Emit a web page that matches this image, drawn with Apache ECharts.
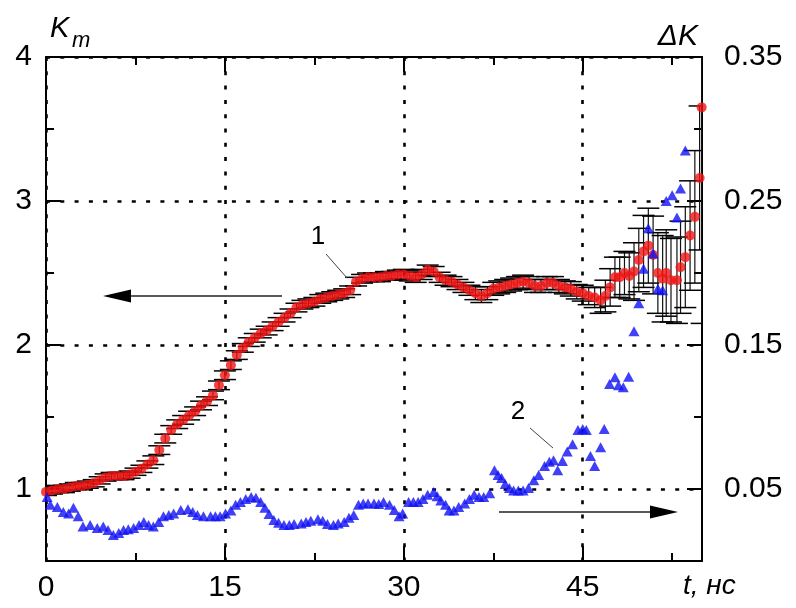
<!DOCTYPE html>
<html><head><meta charset="utf-8">
<script src="https://cdn.jsdelivr.net/npm/echarts@6/dist/echarts.min.js"></script>
<style>html,body{margin:0;padding:0;background:#fff}#c{width:796px;height:608px}</style>
</head><body><div id="c"></div>
<script>
// ---- data (t in ns) ----
const tRed = [0,0.5,1,1.5,2,2.5,3,3.5,4,4.5,
  5,5.5,6,6.5,7,7.5,8,8.5,9,9.5,
  10,10.5,11,11.5,12,12.5,13,13.5,14,14.5,
  15,15.5,16,16.5,17,17.5,18,18.5,19,19.5,
  20,20.5,21,21.5,22,22.5,23,23.5,24,24.5,
  25,25.5,26,26.5,27,27.5,28,28.5,29,29.5,
  30,30.5,31,31.5,32,32.5,33,33.5,34,34.5,
  35,35.5,36,36.5,37,37.5,38,38.5,39,39.5,
  40,40.5,41,41.5,42,42.5,43,43.5,44,44.5,
  45,45.5,46,46.5,
  46.9,47.3,47.7,48.1,48.5,48.9,49.3,49.7,50.1,50.5,
  50.9,51.3,51.7,52.0,52.4,52.9,53.2,53.6,54.0,54.4,
  54.8,54.97];
const kRed = [0.98,0.99,1.00,1.00,1.01,1.02,1.02,1.03,1.04,1.06,
  1.08,1.09,1.09,1.09,1.10,1.12,1.14,1.17,1.20,1.27,
  1.35,1.41,1.45,1.48,1.51,1.54,1.58,1.61,1.65,1.72,
  1.79,1.86,1.93,1.98,2.02,2.05,2.08,2.10,2.13,2.16,
  2.19,2.22,2.26,2.28,2.29,2.30,2.32,2.33,2.34,2.35,
  2.36,2.38,2.44,2.46,2.47,2.47,2.47,2.48,2.48,2.49,
  2.49,2.48,2.47,2.49,2.52,2.51,2.47,2.45,2.44,2.42,
  2.40,2.38,2.36,2.34,2.36,2.39,2.40,2.41,2.42,2.43,
  2.44,2.43,2.41,2.41,2.43,2.43,2.41,2.40,2.39,2.37,
  2.36,2.34,2.33,2.31,
  2.34,2.40,2.47,2.47,2.50,2.48,2.51,2.59,2.65,2.69,
  2.625,2.50,2.46,2.50,2.45,2.45,2.54,2.61,2.76,2.89,
  3.16,3.65];
const errRed = [0.025,0.025,0.025,0.025,0.025,0.025,0.025,0.025,0.025,0.025,
  0.025,0.025,0.025,0.025,0.025,0.025,0.025,0.025,0.03,0.03,
  0.03,0.03,0.03,0.03,0.03,0.03,0.03,0.03,0.03,0.03,
  0.03,0.03,0.03,0.03,0.03,0.03,0.03,0.03,0.03,0.03,
  0.03,0.03,0.03,0.03,0.03,0.03,0.03,0.03,0.03,0.03,
  0.03,0.03,0.03,0.03,0.03,0.03,0.03,0.03,0.03,0.03,
  0.035,0.035,0.035,0.035,0.035,0.035,0.035,0.035,0.035,0.035,
  0.035,0.035,0.045,0.045,0.045,0.045,0.045,0.045,0.045,0.045,
  0.045,0.045,0.045,0.045,0.045,0.045,0.045,0.045,0.05,0.05,
  0.055,0.06,0.07,0.09,
  0.11,0.13,0.14,0.14,0.15,0.16,0.20,0.22,0.25,0.26,
  0.27,0.28,0.30,0.30,0.29,0.30,0.32,0.35,0.38,0.46,
  0.50,1.50];
const tBlue = [0.1,0.36,0.95,1.45,1.9,2.3,2.7,3.1,3.7,4.3,
  4.8,5.2,5.65,6.1,6.5,6.9,7.35,7.8,8.2,8.6,
  9.0,9.45,9.85,10.3,10.7,11.3,11.9,12.3,12.7,13.2,
  13.8,14.2,14.6,15.05,15.5,15.9,16.3,16.75,17.2,17.6,
  18.0,18.35,18.7,19.1,19.5,19.95,20.4,20.8,21.4,21.8,
  22.2,22.8,23.2,23.6,24.1,24.5,25.0,25.4,25.8,26.2,
  26.6,27.0,27.5,27.9,28.3,28.8,29.2,29.6,29.9,30.4,
  30.8,31.2,31.6,32.0,32.5,32.8,33.1,33.5,33.8,34.2,
  34.6,35.1,35.5,35.9,36.3,36.7,37.2,37.6,37.9,38.2,
  38.5,38.85,39.2,39.6,40.0,40.45,40.9,41.3,41.8,42.2,
  42.55,42.9,43.3,43.7,44.15,44.6,45.0,45.3,45.65,46.0,
  46.5,46.8,47.25,47.7,48.0,48.4,48.85,49.3,49.7,50.1,
  50.5,50.9,51.3,51.7,52.0,52.5,52.9,53.2,53.6];
const dkBlue = [0.0445,0.039,0.0375,0.034,0.033,0.037,0.031,0.024,0.025,0.023,
  0.024,0.0215,0.018,0.0195,0.0215,0.022,0.023,0.025,0.027,0.025,
  0.024,0.027,0.031,0.032,0.033,0.0355,0.036,0.034,0.032,0.031,
  0.031,0.031,0.031,0.033,0.035,0.039,0.041,0.043,0.0445,0.044,
  0.041,0.037,0.0327,0.0285,0.0265,0.025,0.025,0.0257,0.026,0.027,
  0.028,0.029,0.028,0.0257,0.025,0.026,0.027,0.030,0.032,0.039,
  0.040,0.040,0.040,0.0396,0.041,0.039,0.0355,0.031,0.033,0.041,
  0.041,0.041,0.043,0.046,0.048,0.045,0.042,0.039,0.035,0.035,
  0.0375,0.040,0.043,0.046,0.0445,0.0445,0.047,0.063,0.0597,0.0576,
  0.0535,0.0507,0.049,0.049,0.049,0.0507,0.056,0.0597,0.066,0.069,
  0.070,0.063,0.0694,0.076,0.081,0.091,0.0916,0.091,0.073,0.066,
  0.079,0.0916,0.123,0.1276,0.122,0.1207,0.128,0.1595,0.179,0.203,
  0.231,0.2135,0.189,0.188,0.250,0.254,0.2385,0.2586,0.285];
const xTicks = [0,15,30,45];
const xMinor = [7.5,22.5,37.5,52.5];
const kTicks = [1,2,3,4];
const kMinor = [1.5,2.5,3.5];
const dkTicks = [0.05,0.15,0.25,0.35];
const dkMinor = [0.1,0.2,0.3];

const FONT = 'Liberation Sans, Arial, sans-serif';
const BLACK = '#000';
const dotted = {color: BLACK, width: 2.6, type: [4, 10.3]};

function axis(kind, pos, range, ticks, len, labelVals, line, split, fmt, margin) {
  return {
    type: 'value', position: pos, min: range[0], max: range[1],
    axisLine: {show: line, onZero: false, lineStyle: {color: BLACK, width: 2}},
    axisTick: {show: true, inside: true, length: len, customValues: ticks,
               lineStyle: {color: BLACK, width: 2}},
    axisLabel: labelVals ? {show: true, customValues: labelVals, fontSize: 30,
               fontFamily: FONT, color: BLACK, margin: margin,
               formatter: fmt} : {show: false},
    splitLine: split ? {show: true, lineStyle: dotted} : {show: false},
    minorTick: {show: false}
  };
}

const chart = echarts.init(document.getElementById('c'), null, {renderer: 'canvas'});
const option = {
  animation: false,
  backgroundColor: '#fff',
  grid: {left: 46, right: 94, top: 57, bottom: 47, containLabel: false},
  xAxis: [
    axis('x', 'bottom', [0, 55], xTicks, 15, xTicks, true, true, v => String(v), 12),
    axis('x', 'bottom', [0, 55], xMinor, 8, null, false, false),
    axis('x', 'top', [0, 55], xTicks, 15, null, true, false),
    axis('x', 'top', [0, 55], xMinor, 8, null, false, false)
  ],
  yAxis: [
    axis('y', 'left', [0.5, 4], kTicks, 15, kTicks, true, true, v => String(v), 14),
    axis('y', 'left', [0.5, 4], kMinor, 8, null, false, false),
    axis('y', 'right', [0, 0.35], dkTicks, 15, dkTicks, true, false, v => v.toFixed(2), 22),
    axis('y', 'right', [0, 0.35], dkMinor, 8, null, false, false)
  ],
  series: [
    {
      type: 'custom', xAxisIndex: 0, yAxisIndex: 0, clip: true, z: 2,
      data: tRed.map((t, i) => [t, kRed[i] - errRed[i], kRed[i] + errRed[i]]),
      renderItem: function (params, api) {
        const x = api.value(0);
        const lo = api.coord([x, api.value(1)]);
        const hi = api.coord([x, api.value(2)]);
        const hw = 11;
        const st = {stroke: '#000', lineWidth: 1.5};
        return {type: 'group', children: [
          {type: 'line', shape: {x1: lo[0], y1: lo[1], x2: hi[0], y2: hi[1]}, style: {stroke: '#111', lineWidth: 1.2}},
          {type: 'line', shape: {x1: lo[0] - hw, y1: lo[1], x2: lo[0] + hw, y2: lo[1]}, style: st},
          {type: 'line', shape: {x1: hi[0] - hw, y1: hi[1], x2: hi[0] + hw, y2: hi[1]}, style: st}
        ]};
      }
    },
    {
      type: 'scatter', xAxisIndex: 0, yAxisIndex: 0, z: 3,
      symbol: 'circle', symbolSize: 10,
      itemStyle: {color: '#f01414'},
      data: tRed.map((t, i) => [t, kRed[i]])
    },
    {
      type: 'scatter', xAxisIndex: 0, yAxisIndex: 2, z: 4,
      symbol: 'triangle', symbolSize: [11, 10],
      itemStyle: {color: '#1010f4'},
      data: tBlue.map((t, i) => [t, dkBlue[i]])
    }
  ],
  graphic: [
    {type: 'text', z: 10, style: {text: 'K', x: 50, y: 29, font: 'italic 29px ' + FONT, fill: BLACK, verticalAlign: 'middle'}},
    {type: 'text', z: 10, style: {text: 'm', x: 72, y: 41, font: 'italic 22px ' + FONT, fill: BLACK, verticalAlign: 'middle'}},
    {type: 'text', z: 10, style: {text: 'ΔK', x: 698, y: 37, font: 'italic 30px ' + FONT, fill: BLACK, align: 'right', verticalAlign: 'middle'}},
    {type: 'text', z: 10, style: {text: 't, нс', x: 683, y: 586, font: 'italic 28px ' + FONT, fill: BLACK, verticalAlign: 'middle'}},
    {type: 'text', z: 10, style: {text: '1', x: 318, y: 237, font: '26px ' + FONT, fill: BLACK, align: 'center', verticalAlign: 'middle'}},
    {type: 'text', z: 10, style: {text: '2', x: 518, y: 412, font: '26px ' + FONT, fill: BLACK, align: 'center', verticalAlign: 'middle'}},
    {type: 'line', z: 10, shape: {x1: 326, y1: 254, x2: 347, y2: 278}, style: {stroke: '#444', lineWidth: 1}},
    {type: 'line', z: 10, shape: {x1: 530, y1: 428, x2: 553, y2: 448}, style: {stroke: '#444', lineWidth: 1}},
    {type: 'line', z: 10, shape: {x1: 128, y1: 296, x2: 282, y2: 296}, style: {stroke: '#222', lineWidth: 1.5}},
    {type: 'polygon', z: 10, shape: {points: [[103, 296], [131, 289.5], [131, 302.5]]}, style: {fill: '#000'}},
    {type: 'line', z: 10, shape: {x1: 499, y1: 512, x2: 653, y2: 512}, style: {stroke: '#222', lineWidth: 1.5}},
    {type: 'polygon', z: 10, shape: {points: [[678, 512], [650, 505.5], [650, 518.5]]}, style: {fill: '#000'}}
  ]
};
chart.setOption(option);
</script>
</body></html>
